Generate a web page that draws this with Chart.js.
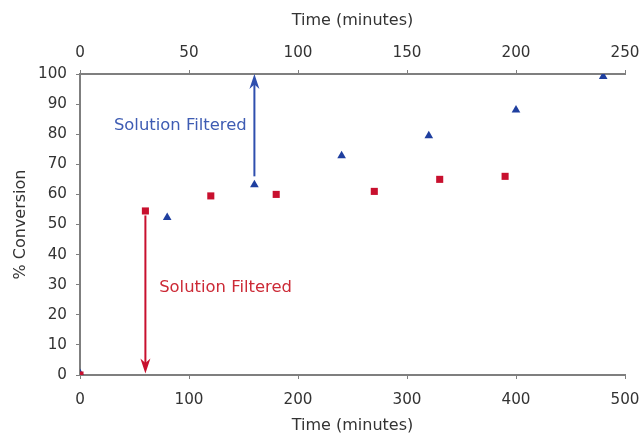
<!DOCTYPE html>
<html><head><meta charset="utf-8">
<script src="https://cdn.jsdelivr.net/npm/chart.js@4/dist/chart.umd.min.js"></script>
<style>html,body{margin:0;padding:0;background:#fff}#wrap{width:642px;height:435px}</style>
</head><body><div id="wrap"><canvas id="c" width="642" height="435"></canvas></div>
<script>
// Series A: red squares, bottom axis (Time, 0-500 min)
const redTime = [0, 60, 120, 180, 270, 330, 390];
const redConv = [0, 54.5, 59.5, 60, 61, 65, 66];
// Series B: blue triangles, top axis (Time, 0-250 min)
const blueTime = [0, 40, 80, 120, 160, 200, 240];
const blueConv = [0.5, 52.3, 63.2, 72.8, 79.5, 88, 99.2];
// Annotations
const noteText = ["Solution Filtered", "Solution Filtered"];
const noteAxis = ["x2", "x"];
const noteX = [46, 133.5];
const noteY = [82.8, 29];
const arrowX = [80, 60];
const arrowFrom = [66, 53];
const arrowTo = [100, 0.5];
const noteColor = ["#3e5cb3", "#cc2a36"];
const arrowColor = ["#2f4fae", "#c8102e"];

const annot = {
  id: 'annot',
  afterDatasetsDraw(chart) {
    const ctx = chart.ctx, y = chart.scales.y;
    ctx.save();
    for (let i = 0; i < arrowX.length; i++) {
      const xs = chart.scales[noteAxis[i]];
      const px = xs.getPixelForValue(arrowX[i]);
      const p0 = y.getPixelForValue(arrowFrom[i]);
      const p1 = y.getPixelForValue(arrowTo[i]);
      const dir = p1 < p0 ? 1 : -1;
      const hl = 15, hw = 5;
      ctx.strokeStyle = arrowColor[i];
      ctx.fillStyle = arrowColor[i];
      ctx.lineWidth = 2;
      ctx.beginPath();
      ctx.moveTo(px, p0);
      ctx.lineTo(px, p1 + dir * hl * 0.6);
      ctx.stroke();
      ctx.beginPath();
      ctx.moveTo(px, p1);
      ctx.lineTo(px - hw, p1 + dir * hl);
      ctx.lineTo(px, p1 + dir * hl * 0.7);
      ctx.lineTo(px + hw, p1 + dir * hl);
      ctx.closePath();
      ctx.fill();
    }
    ctx.font = '16.4px "DejaVu Sans", Verdana, sans-serif';
    ctx.textAlign = 'center';
    ctx.textBaseline = 'middle';
    for (let i = 0; i < noteText.length; i++) {
      const xs = chart.scales[noteAxis[i]];
      ctx.fillStyle = noteColor[i];
      ctx.fillText(noteText[i], xs.getPixelForValue(noteX[i]), y.getPixelForValue(noteY[i]));
    }
    ctx.restore();
  }
};

const axisGray = '#7f7f7f';
const txt = '#333333';
const f16 = { family: '"DejaVu Sans", Verdana, sans-serif', size: 16 };
const fTick = { family: '"DejaVu Sans", Verdana, sans-serif', size: 15.2 };
function noPad(s) { s.paddingLeft = 0; s.paddingRight = 0; s.paddingTop = 0; s.paddingBottom = 0; }

new Chart(document.getElementById('c'), {
  type: 'scatter',
  data: {
    datasets: [
      {
        label: 'Red',
        data: redTime.map((t, i) => ({ x: t, y: redConv[i] })),
        xAxisID: 'x',
        pointStyle: 'rect',
        pointRadius: 5,
        backgroundColor: '#c8102e',
        borderColor: '#c8102e',
        borderWidth: 0
      },
      {
        label: 'Blue',
        data: blueTime.map((t, i) => ({ x: t, y: blueConv[i] })),
        xAxisID: 'x2',
        pointStyle: 'triangle',
        pointRadius: 5,
        backgroundColor: '#1f3f9f',
        borderColor: '#1f3f9f',
        borderWidth: 0
      }
    ]
  },
  options: {
    responsive: false,
    animation: false,
    devicePixelRatio: 1,
    layout: { padding: { left: 11, right: 17, top: 0, bottom: 0 } },
    plugins: { legend: { display: false }, tooltip: { enabled: false } },
    scales: {
      x: {
        type: 'linear', position: 'bottom', min: 0, max: 500,
        ticks: { stepSize: 100, color: txt, font: fTick, padding: 12, maxRotation: 0 },
        grid: { drawOnChartArea: false, drawTicks: true, tickLength: 4, color: axisGray, lineWidth: 1 },
        border: { display: true, color: axisGray, width: 2 },
        title: { display: true, text: 'Time (minutes)', color: txt, font: f16, padding: { top: 6, bottom: 0 } },
        afterFit(s) { s.height = 60; noPad(s); }
      },
      x2: {
        type: 'linear', position: 'top', min: 0, max: 250,
        ticks: { stepSize: 50, color: txt, font: fTick, padding: 8, maxRotation: 0 },
        grid: { drawOnChartArea: false, drawTicks: true, tickLength: 4, color: axisGray, lineWidth: 1 },
        border: { display: true, color: axisGray, width: 2 },
        title: { display: true, text: 'Time (minutes)', color: txt, font: f16, padding: { top: 11, bottom: 4 } },
        afterFit(s) { s.height = 74; noPad(s); }
      },
      y: {
        type: 'linear', position: 'left', min: 0, max: 100,
        ticks: { stepSize: 10, color: txt, font: fTick, padding: 9 },
        grid: { drawOnChartArea: false, drawTicks: true, tickLength: 4, color: axisGray, lineWidth: 1 },
        border: { display: true, color: axisGray, width: 2 },
        title: { display: true, text: '% Conversion', color: txt, font: f16, padding: { top: 0, bottom: 6 } },
        afterFit(s) { s.width = 69; noPad(s); }
      }
    }
  },
  plugins: [annot]
});
</script>
</body></html>
